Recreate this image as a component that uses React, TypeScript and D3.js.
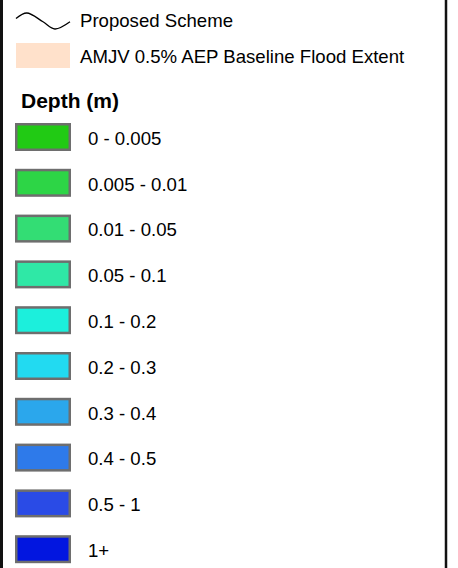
import React from "react";
import * as d3 from "d3";

const W = 458;
const H = 568;

const lineLabel = "Proposed Scheme";
const extentLabel = "AMJV 0.5% AEP Baseline Flood Extent";
const extentColor = "#FFE1CB";
const depthTitle = "Depth (m)";

const depthClasses = [
  "0 - 0.005",
  "0.005 - 0.01",
  "0.01 - 0.05",
  "0.05 - 0.1",
  "0.1 - 0.2",
  "0.2 - 0.3",
  "0.3 - 0.4",
  "0.4 - 0.5",
  "0.5 - 1",
  "1+",
];
const depthColors = [
  "#21CA14",
  "#2DD546",
  "#33DD74",
  "#2FE8A6",
  "#1CEFDC",
  "#22DAF1",
  "#2BA7EC",
  "#2E7AEA",
  "#2A4BE6",
  "#0216E0",
];

// symbol shape for the line-feature legend patch (unit coords)
const curveShape: [number, number][] = [
  [0, 0.35],
  [0.2, 0.0],
  [0.5, 0.55],
  [0.72, 1.0],
  [1, 0.55],
];

export default function App() {
  const y = d3
    .scaleLinear()
    .domain([0, depthClasses.length - 1])
    .range([137, 137 + 45.8 * (depthClasses.length - 1)]);

  const cx = d3.scaleLinear().domain([0, 1]).range([16, 70]);
  const cy = d3.scaleLinear().domain([0, 1]).range([13, 29]);
  const curvePath = d3
    .line<[number, number]>()
    .x((d) => cx(d[0]))
    .y((d) => cy(d[1]))
    .curve(d3.curveCatmullRom.alpha(0.5))(curveShape) as string;

  const font = "'Liberation Sans', Arial, sans-serif";
  const fs = 18.6;

  return (
    <svg
      width={W}
      height={H}
      style={{ position: "absolute", left: 0, top: 0, background: "#fff" }}
      fontFamily={font}
    >
      <rect x={0} y={0} width={W} height={H} fill="#fff" />
      <line x1={1.5} x2={1.5} y1={0} y2={H} stroke="#111" strokeWidth={3} />
      <line x1={446} x2={446} y1={0} y2={H} stroke="#111" strokeWidth={2.5} />

      <path d={curvePath} fill="none" stroke="#000" strokeWidth={1.3} />
      <text x={80} y={27} fontSize={fs} fill="#000">
        {lineLabel}
      </text>

      <rect x={16} y={43} width={54} height={25} fill={extentColor} />
      <text x={80} y={62.5} fontSize={fs} fill="#000">
        {extentLabel}
      </text>

      <text x={21} y={108} fontSize={21} fontWeight="bold" fill="#000">
        {depthTitle}
      </text>

      {depthClasses.map((label, i) => (
        <g key={label}>
          <rect
            x={16.25}
            y={y(i) - 12.75}
            width={53.5}
            height={25.5}
            fill={depthColors[i]}
            stroke="#6E6E6E"
            strokeWidth={2.5}
          />
          <text x={88} y={y(i) + 7.8} fontSize={fs} fill="#000">
            {label}
          </text>
        </g>
      ))}
    </svg>
  );
}
